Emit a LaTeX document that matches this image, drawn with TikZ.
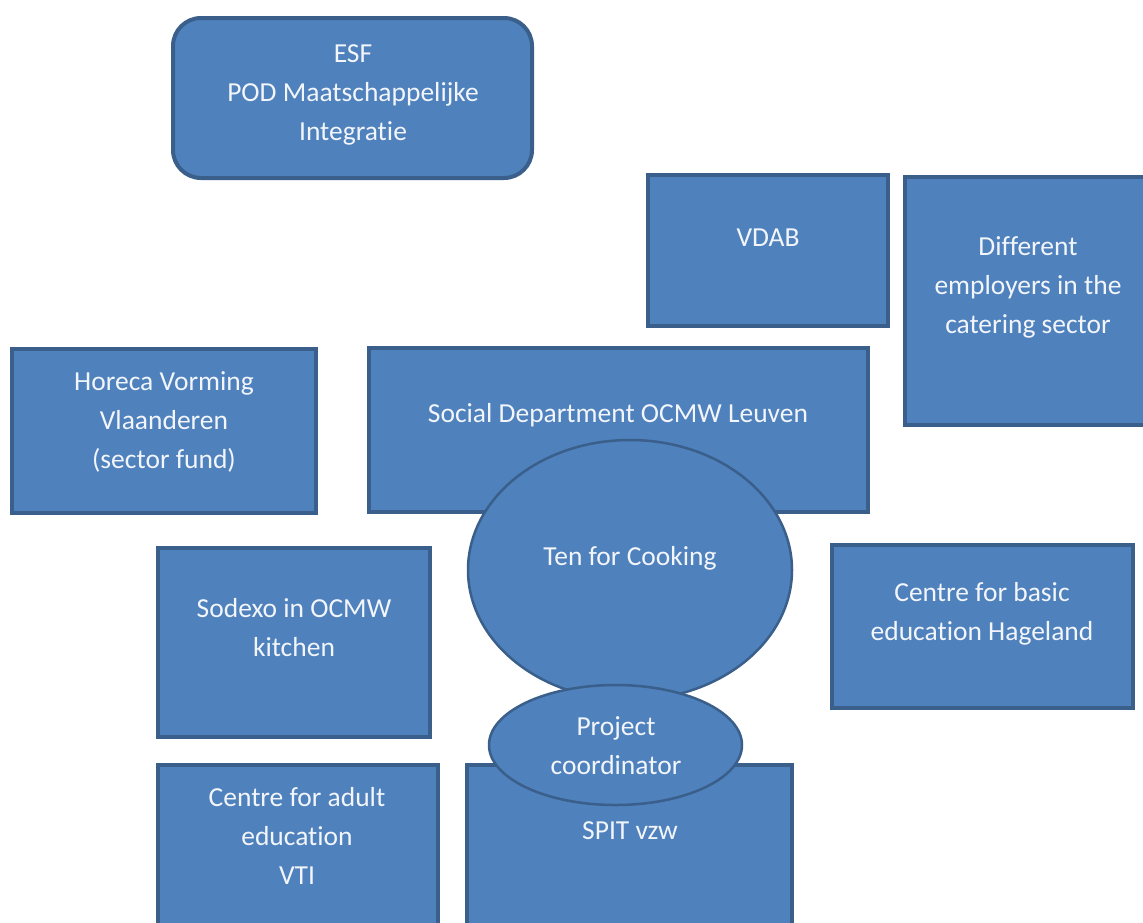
\documentclass[tikz,border=0pt]{standalone}
\usepackage{fontspec}
\setmainfont[Ligatures=NoCommon]{Carlito}
\usetikzlibrary{shapes.geometric}
\definecolor{boxfill}{HTML}{4F81BD}
\definecolor{boxline}{HTML}{3A5F8B}
\definecolor{boxtext}{HTML}{F2F5FA}
\tikzset{
  orgbox/.style={draw=boxline, fill=boxfill, line width=4pt, rectangle, inner sep=0pt},
  roundbox/.style={orgbox, rounded corners=28pt},
  orgoval/.style={draw=boxline, fill=boxfill, line width=2.5pt, ellipse, inner sep=0pt},
  lbl/.style={text=boxtext, align=center, inner sep=0pt,
    font=\fontsize{27.5}{39}\selectfont}
}
\begin{document}
\begin{tikzpicture}[x=1pt,y=-1pt]
\useasboundingbox (0,0) rectangle (1143,922);
\clip (0,0) rectangle (1143,922);
\fill[white] (0,0) rectangle (1143,922);

% funding partner
\node[roundbox, minimum width=359pt, minimum height=160pt] (esf) at (352.5,98) {};
\node[lbl] (esfT) at (353,95) {ESF\\POD Maatschappelijke\\Integratie};

% top right partners
\node[orgbox, minimum width=240pt, minimum height=151pt] (vdab) at (768,250.5) {};
\node[lbl] (vdabT) at (768,238) {VDAB};
\node[orgbox, minimum width=245pt, minimum height=248pt] (empl) at (1027.5,301) {};
\node[lbl] (emplT) at (1028,287) {Different\\employers in the\\catering sector};

% middle row
\node[orgbox, minimum width=304pt, minimum height=164pt] (horeca) at (164,431) {};
\node[lbl] (horecaT) at (164,422) {Horeca Vorming\\Vlaanderen\\(sector fund)};
\node[orgbox, minimum width=499pt, minimum height=164pt] (social) at (618.5,430) {};
\node[lbl] (socialT) at (618,415) {Social Department OCMW Leuven};

\node[orgbox, minimum width=272pt, minimum height=189pt] (sodexo) at (294,642.5) {};
\node[lbl] (sodexoT) at (294,628) {Sodexo in OCMW\\kitchen};
\node[orgbox, minimum width=301pt, minimum height=163pt] (basic) at (982.5,626.5) {};
\node[lbl] (basicT) at (982,614) {Centre for basic\\education Hageland};

% bottom row
\node[orgbox, minimum width=280pt, minimum height=180pt] (adult) at (298,855) {};
\node[lbl] (adultT) at (297,836) {Centre for adult\\education\\VTI};
\node[orgbox, minimum width=325pt, minimum height=180pt] (spit) at (629.5,855) {};
\node[lbl] (spitT) at (630,831) {SPIT vzw};

% central project and its coordinator
\node[orgoval, minimum width=324pt, minimum height=260pt] (ten) at (630,570) {};
\node[lbl] (tenT) at (630,558) {Ten for Cooking};
\node[orgoval, minimum width=253pt, minimum height=120pt] (coord) at (615.5,745) {};
\node[lbl] (coordT) at (616,746) {Project\\coordinator};
\end{tikzpicture}
\end{document}
